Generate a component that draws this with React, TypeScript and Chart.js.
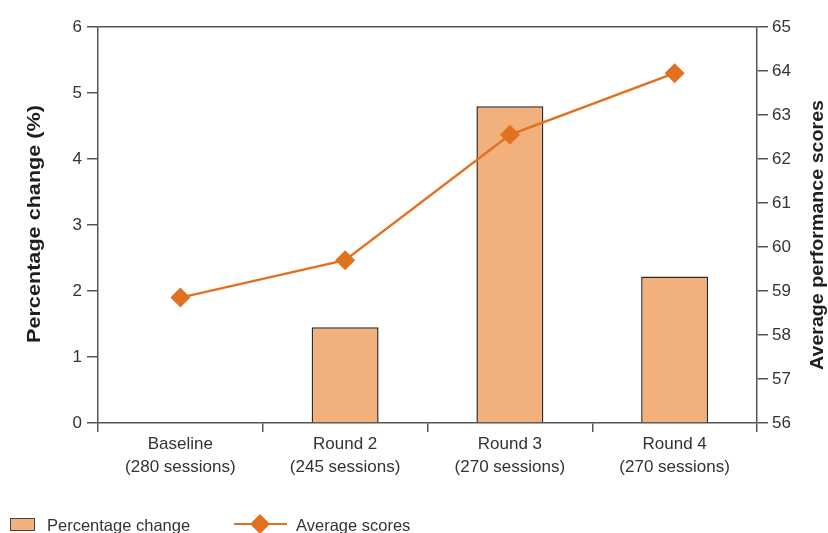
import React, { useEffect, useRef } from 'react';
import { Chart, registerables } from 'chart.js';
Chart.register(...registerables);

const categories: string[][] = [
  ['Baseline', '(280 sessions)'],
  ['Round 2', '(245 sessions)'],
  ['Round 3', '(270 sessions)'],
  ['Round 4', '(270 sessions)'],
];
const percentageChange = [0, 1.45, 4.8, 2.22];
const averageScores = [58.85, 59.7, 62.55, 63.95];
const leftAxisRange = [0, 6];
const rightAxisRange = [56, 65];
const leftTitle = 'Percentage change (%)';
const rightTitle = 'Average performance scores';
const barLabel = 'Percentage change';
const lineLabel = 'Average scores';

const FONT = "'Liberation Sans', Arial, sans-serif";
const BAR_FILL = '#F2B07D';
const BAR_BORDER = '#2a2a2a';
const LINE_COLOR = '#E2711F';
const AXIS_COLOR = '#555555';
const TEXT_COLOR = '#333333';

function drawRotatedTitle(ctx: CanvasRenderingContext2D, text: string, x: number, y: number, targetLen: number) {
  ctx.save();
  ctx.translate(x, y);
  ctx.rotate(-Math.PI / 2);
  const w = ctx.measureText(text).width;
  ctx.scale(targetLen / w, 1);
  ctx.fillText(text, 0, 0);
  ctx.restore();
}

const overlayPlugin = {
  id: 'overlay',
  afterDraw(chart: any) {
    const ctx = chart.ctx as CanvasRenderingContext2D;
    ctx.save();
    ctx.fillStyle = '#1e1e1e';
    ctx.font = `bold 19px ${FONT}`;
    ctx.textAlign = 'center';
    ctx.textBaseline = 'middle';
    drawRotatedTitle(ctx, leftTitle, 35, 224, 238);
    drawRotatedTitle(ctx, rightTitle, 818, 235, 270);

    // legend
    const ly = 526;
    ctx.fillStyle = BAR_FILL;
    ctx.strokeStyle = '#444';
    ctx.lineWidth = 1;
    ctx.fillRect(10, 518, 25, 13);
    ctx.strokeRect(10.5, 518.5, 24, 12);
    ctx.fillStyle = TEXT_COLOR;
    ctx.font = `16.5px ${FONT}`;
    ctx.textAlign = 'left';
    ctx.fillText(barLabel, 47, ly);

    ctx.strokeStyle = LINE_COLOR;
    ctx.lineWidth = 2;
    ctx.beginPath();
    ctx.moveTo(234, 524);
    ctx.lineTo(287, 524);
    ctx.stroke();
    ctx.fillStyle = LINE_COLOR;
    ctx.beginPath();
    const cx = 260, cy = 524, r = 10;
    ctx.moveTo(cx, cy - r);
    ctx.lineTo(cx + r, cy);
    ctx.lineTo(cx, cy + r);
    ctx.lineTo(cx - r, cy);
    ctx.closePath();
    ctx.fill();
    ctx.fillStyle = TEXT_COLOR;
    ctx.fillText(lineLabel, 296, ly);
    ctx.restore();
  },
};

export default function App() {
  const ref = useRef<HTMLCanvasElement>(null);
  useEffect(() => {
    document.body.style.margin = '0';
    const chart = new Chart(ref.current!, {
      type: 'bar',
      data: {
        labels: categories as any,
        datasets: [
          {
            type: 'line',
            label: lineLabel,
            data: averageScores,
            yAxisID: 'y1',
            borderColor: LINE_COLOR,
            backgroundColor: LINE_COLOR,
            borderWidth: 2.5,
            pointStyle: 'rectRot',
            pointRadius: 10,
            pointHoverRadius: 10,
            pointBorderWidth: 0,
            order: 0,
          } as any,
          {
            type: 'bar',
            label: barLabel,
            data: percentageChange,
            yAxisID: 'y',
            backgroundColor: BAR_FILL,
            borderColor: BAR_BORDER,
            borderWidth: 1.5,
            categoryPercentage: 0.8,
            barPercentage: 0.508,
            order: 1,
          },
        ],
      },
      options: {
        animation: false,
        responsive: false,
        layout: { padding: { top: 27, bottom: 40, left: 0, right: 0 } },
        plugins: { legend: { display: false }, tooltip: { enabled: false } },
        scales: {
          x: {
            offset: true,
            grid: { offset: true, drawOnChartArea: false, drawTicks: true, tickLength: 9, color: AXIS_COLOR, lineWidth: 1.5 },
            border: { color: AXIS_COLOR, width: 1.5 },
            ticks: { color: TEXT_COLOR, font: { family: FONT, size: 17, lineHeight: 1.35 }, padding: 1 },
            afterFit(scale: any) { scale.height = 70; },
          },
          y: {
            position: 'left',
            min: leftAxisRange[0],
            max: leftAxisRange[1],
            ticks: { stepSize: 1, color: TEXT_COLOR, font: { family: FONT, size: 17 }, padding: 5 },
            grid: {
              drawOnChartArea: true,
              tickLength: 11,
              lineWidth: 1.5,
              color: (c: any) => (c.tick && c.tick.value === leftAxisRange[1] ? AXIS_COLOR : 'rgba(0,0,0,0)'),
              tickColor: AXIS_COLOR,
            },
            border: { color: AXIS_COLOR, width: 1.5 },
            afterFit(scale: any) { scale.width = 98; },
          },
          y1: {
            position: 'right',
            min: rightAxisRange[0],
            max: rightAxisRange[1],
            ticks: { stepSize: 1, color: TEXT_COLOR, font: { family: FONT, size: 17 }, padding: 4 },
            grid: { drawOnChartArea: false, tickLength: 11, lineWidth: 1.5, color: AXIS_COLOR },
            border: { color: AXIS_COLOR, width: 1.5 },
            afterFit(scale: any) { scale.width = 71; },
          },
        },
      },
      plugins: [overlayPlugin],
    });
    return () => chart.destroy();
  }, []);
  return (
    <div style={{ position: 'absolute', left: 0, top: 0, width: 828, height: 533, background: '#fff' }}>
      <canvas ref={ref} width={828} height={533} style={{ width: 828, height: 533, display: 'block' }} />
    </div>
  );
}
